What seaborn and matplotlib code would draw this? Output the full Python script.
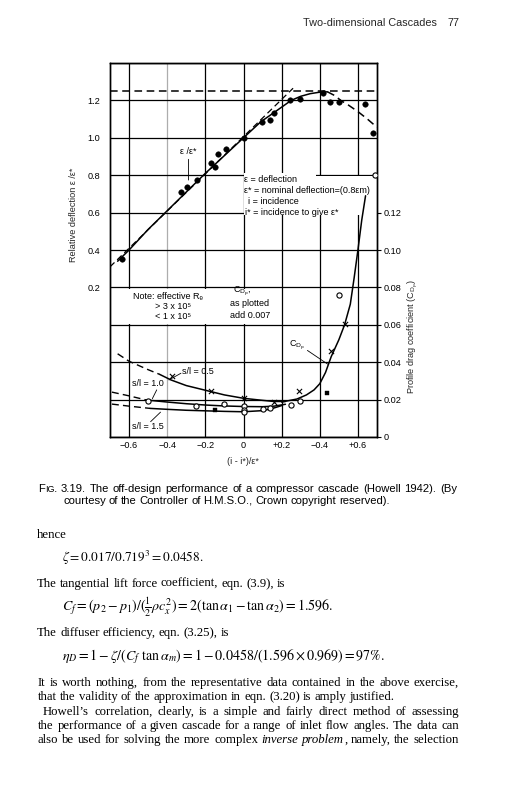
import numpy as np
import matplotlib
matplotlib.use("Agg")
import matplotlib.pyplot as plt
import seaborn as sns
from matplotlib.patches import Rectangle

# ---------------- data ----------------
# relative deflection eps/eps* (left axis)
defl_curve_x = [-0.66, -0.60, -0.50, -0.40, -0.30, -0.20, -0.10, 0.00, 0.09, 0.16, 0.25, 0.30, 0.35, 0.40, 0.44]
defl_curve_y = [0.34, 0.40, 0.51, 0.61, 0.71, 0.81, 0.905, 1.00, 1.085, 1.135, 1.20, 1.222, 1.236, 1.244, 1.246]
defl_fall_x = [0.44, 0.48, 0.51, 0.55, 0.60, 0.65, 0.70]
defl_fall_y = [1.246, 1.225, 1.20, 1.175, 1.14, 1.10, 1.056]
nominal_x = [-0.70, 0.26]
nominal_y = [0.31, 1.265]
max_defl_x = [-0.70, 0.70]
max_defl_y = [1.25, 1.25]
defl_pts_x = [-0.635, -0.326, -0.295, -0.246, -0.173, -0.152, -0.134, -0.094, 0.0, 0.098, 0.138,
              0.159, 0.246, 0.295, 0.417, 0.455, 0.503, 0.639, 0.679]
defl_pts_y = [0.35, 0.712, 0.735, 0.774, 0.864, 0.843, 0.912, 0.942, 1.0, 1.086, 1.095,
              1.13, 1.20, 1.21, 1.241, 1.19, 1.193, 1.18, 1.027]

# profile drag coefficient (right axis)
sl05_dash_x = [-0.66, -0.60, -0.50, -0.44]
sl05_dash_y = [0.0445, 0.0405, 0.0360, 0.0335]
sl05_x = [-0.44, -0.38, -0.30, -0.20, -0.10, 0.00, 0.10, 0.16, 0.22]
sl05_y = [0.0335, 0.0305, 0.0275, 0.0250, 0.0225, 0.0207, 0.0196, 0.0190, 0.0190]
sl10_dash_x = [-0.69, -0.60, -0.51]
sl10_dash_y = [0.0240, 0.0220, 0.0198]
sl10_x = [-0.51, -0.40, -0.30, -0.20, -0.10, 0.00, 0.10, 0.16, 0.22]
sl10_y = [0.0198, 0.0187, 0.0178, 0.0171, 0.0166, 0.0163, 0.0162, 0.0165, 0.0175]
sl15_dash_x = [-0.69, -0.60, -0.49]
sl15_dash_y = [0.0176, 0.0165, 0.0153]
sl15_x = [-0.49, -0.40, -0.30, -0.20, -0.10, 0.00, 0.10, 0.15, 0.20]
sl15_y = [0.0153, 0.0148, 0.0143, 0.0140, 0.0137, 0.0135, 0.0141, 0.0152, 0.0168]
cdp_x = [0.20, 0.28, 0.33, 0.37, 0.40, 0.43, 0.46, 0.50, 0.53, 0.56, 0.58, 0.60, 0.62, 0.64]
cdp_y = [0.0187, 0.0203, 0.0225, 0.0252, 0.0285, 0.0345, 0.0430, 0.0520, 0.0600, 0.0710, 0.0850, 0.1000, 0.1160, 0.1290]
cross_x = [-0.377, -0.173, 0.0, 0.159, 0.29, 0.459, 0.534]
cross_y = [0.0326, 0.0246, 0.0207, 0.0189, 0.0246, 0.0460, 0.0603]
ring_x = [-0.50, -0.251, -0.103, 0.0, 0.0, 0.0, 0.10, 0.138, 0.25, 0.298, 0.499, 0.69]
ring_y = [0.0193, 0.0166, 0.0176, 0.0166, 0.0142, 0.0132, 0.0150, 0.0153, 0.0171, 0.0193, 0.0759, 0.140]
square_x = [-0.147, 0.44]
square_y = [0.0144, 0.0237]

x_ticks = [-0.6, -0.4, -0.2, 0.0, 0.2, 0.4, 0.6]
x_tick_labels = ["\u22120.6", "\u22120.4", "\u22120.2", "0", "+0.2", "\u22120.4", "+0.6"]
left_ticks = [-0.6, -0.4, -0.2, 0.0, 0.2, 0.4, 0.6, 0.8, 1.0, 1.2, 1.4]
left_tick_labels = ["", "", "", "", "0.2", "0.4", "0.6", "0.8", "1.0", "1.2", ""]
right_ticks = [0.0, 0.02, 0.04, 0.06, 0.08, 0.10, 0.12]
right_tick_labels = ["0", "0.02", "0.04", "0.06", "0.08", "0.10", "0.12"]

# ---------------- style ----------------
sns.set_style("white")
SANS = ["Liberation Sans", "DejaVu Sans"]
SERIF = ["Liberation Serif", "DejaVu Serif"]
plt.rcParams["font.family"] = SANS
plt.rcParams["mathtext.fontset"] = "dejavusans"

W, H = 514, 800
fig = plt.figure(figsize=(W / 100, H / 100), dpi=100)
fig.patch.set_facecolor("white")
renderer = fig.canvas.get_renderer()

ax = fig.add_axes([110 / W, 1 - 437 / H, 267 / W, 374 / H])
ax2 = ax.twinx()
ax.set_xlim(-0.7, 0.7)
ax.set_ylim(-0.6, 1.4)
ax2.set_ylim(0, 0.2)

TS = 6.6
ax.set_xticks(x_ticks)
ax.set_xticklabels(x_tick_labels)
ax.set_yticks(left_ticks)
ax.set_yticklabels(left_tick_labels)
ax.tick_params(axis="both", length=0, labelsize=TS, colors="black")
ax.tick_params(axis="y", pad=7)
ax.tick_params(axis="x", pad=3)
ax2.set_yticks(right_ticks)
ax2.set_yticklabels(right_tick_labels)
ax2.tick_params(axis="y", direction="out", length=3, width=0.8, pad=1.5, labelsize=TS, colors="black")
ax.set_axisbelow(True)
ax.grid(True, color="black", lw=0.9)
ax2.grid(False)
ax.get_xgridlines()[1].set_color("0.68")
for a in (ax, ax2):
    for s in a.spines.values():
        s.set_color("black")
        s.set_linewidth(1.0)

# white label boxes that interrupt the grid
ax.add_patch(Rectangle((0.0, 0.585), 0.7, 0.212, facecolor="white", edgecolor="none", zorder=1))
ax.add_patch(Rectangle((0.0, 0.79), 0.38, 0.02, facecolor="white", edgecolor="none", zorder=1))
ax.add_patch(Rectangle((-0.7, 0.006), 0.85, 0.188, facecolor="white", edgecolor="none", zorder=1))

DASH = (0, (5, 3))
# deflection curves
sns.lineplot(x=defl_curve_x, y=defl_curve_y, ax=ax, color="black", lw=1.1, sort=False)
sns.lineplot(x=defl_fall_x, y=defl_fall_y, ax=ax, color="black", lw=1.1, linestyle=DASH, sort=False)
sns.lineplot(x=nominal_x, y=nominal_y, ax=ax, color="black", lw=0.9, linestyle=DASH, sort=False)
sns.lineplot(x=max_defl_x, y=max_defl_y, ax=ax, color="black", lw=1.1, linestyle=DASH, sort=False)
sns.scatterplot(x=defl_pts_x, y=defl_pts_y, ax=ax, color="black", s=16, marker="o", edgecolor="black", zorder=4)

# drag curves
for xs, ys in [(sl05_dash_x, sl05_dash_y), (sl10_dash_x, sl10_dash_y), (sl15_dash_x, sl15_dash_y)]:
    sns.lineplot(x=xs, y=ys, ax=ax2, color="black", lw=1.0, linestyle=DASH, sort=False)
for xs, ys in [(sl05_x, sl05_y), (sl10_x, sl10_y), (sl15_x, sl15_y), (cdp_x, cdp_y)]:
    sns.lineplot(x=xs, y=ys, ax=ax2, color="black", lw=1.1, sort=False)
sns.scatterplot(x=cross_x, y=cross_y, ax=ax2, color="black", marker="x", s=14, linewidth=0.8, zorder=4)
sns.scatterplot(x=ring_x, y=ring_y, ax=ax2, color="white", edgecolor="black", marker="o", s=14,
                linewidth=0.8, zorder=4)
sns.scatterplot(x=square_x, y=square_y, ax=ax2, color="black", edgecolor="black", marker="s", s=12, zorder=4)

# ---------------- chart annotations ----------------
AS = 6.5
kw = dict(fontsize=AS, color="black")
ax.text(-0.288, 0.925, "\u03b5 /\u03b5*", ha="center", va="center", **kw)
ax.annotate("", xy=(-0.288, 0.774), xytext=(-0.288, 0.885),
            arrowprops=dict(arrowstyle="-", lw=0.6, color="black", shrinkA=0, shrinkB=0))
ax.text(0.005, 0.776, "\u03b5 = deflection", ha="left", va="center", zorder=5, **kw)
ax.text(0.005, 0.719, "\u03b5* = nominal deflection=(0.8\u03b5m)", ha="left", va="center", zorder=5, **kw)
ax.text(0.021, 0.660, "i = incidence", ha="left", va="center", zorder=5, **kw)
ax.text(0.010, 0.602, "i* = incidence to give \u03b5*", ha="left", va="center", zorder=5, **kw)

ax.text(-0.578, 0.154, "Note: effective R\u2091", ha="left", va="center", zorder=5, **kw)
ax.text(-0.466, 0.097, "> 3 x 10\u2075", ha="left", va="center", zorder=5, **kw)
ax.text(-0.466, 0.044, "< 1 x 10\u2075", ha="left", va="center", zorder=5, **kw)
ax.text(-0.005, 0.177, "C$_{\\mathrm{D_p}}$,", ha="center", va="center", zorder=5, **kw)
ax.text(0.034, 0.113, "as plotted", ha="center", va="center", zorder=5, **kw)
ax.text(0.034, 0.051, "add 0.007", ha="center", va="center", zorder=5, **kw)

ax2.text(0.281, 0.0490, "C$_{\\mathrm{D_p}}$", ha="center", va="center", **kw)
ax2.annotate("", xy=(0.441, 0.039), xytext=(0.335, 0.0463),
             arrowprops=dict(arrowstyle="-", lw=0.6, color="black", shrinkA=0, shrinkB=0))
ax2.text(-0.321, 0.0349, "s/l = 0.5", ha="left", va="center", **kw)
ax2.annotate("", xy=(-0.391, 0.0305), xytext=(-0.328, 0.0341),
             arrowprops=dict(arrowstyle="-", lw=0.6, color="black", shrinkA=0, shrinkB=0))
ax2.text(-0.583, 0.0287, "s/l = 1.0", ha="left", va="center", **kw)
ax2.annotate("", xy=(-0.478, 0.0205), xytext=(-0.455, 0.0252),
             arrowprops=dict(arrowstyle="-", lw=0.6, color="black", shrinkA=0, shrinkB=0))
ax2.text(-0.583, 0.0055, "s/l = 1.5", ha="left", va="center", **kw)
ax2.annotate("", xy=(-0.435, 0.0133), xytext=(-0.487, 0.0082),
             arrowprops=dict(arrowstyle="-", lw=0.6, color="black", shrinkA=0, shrinkB=0))

fig.text(243 / W, 1 - 462 / H, "(i - i*)/\u03b5*", ha="center", va="center", fontsize=TS)
fig.text(73 / W, 1 - 215 / H, "Relative deflection \u03b5 /\u03b5*", rotation=90, ha="center", va="center",
         fontsize=TS)
fig.text(413 / W, 1 - 336 / H, "Profile drag coefficient (C$_{\\mathrm{D_p}}$)", rotation=90,
         ha="center", va="center", fontsize=TS)


# ---------------- page text ----------------
def text_width(s, size, **k):
    t = fig.text(0, 0, s, fontsize=size, **k)
    w = t.get_window_extent(renderer).width
    t.remove()
    return w


def fit_size(s, target, **k):
    return 10.0 * target / text_width(s, 10.0, **k)


def draw_line(words, x0, yb, family, x1=None, space_size=8):
    items = []
    for word in words:
        segs = []
        for txt, size, style in word:
            t = fig.text(0, 0, txt, fontsize=size, family=family, style=style, va="baseline", ha="left",
                         color="black")
            segs.append((t, t.get_window_extent(renderer).width))
        items.append(segs)
    widths = [sum(w for _, w in segs) for segs in items]
    if x1 is not None and len(items) > 1:
        gap = (x1 - x0 - sum(widths)) / (len(items) - 1)
    else:
        gap = 0.25 * space_size * 100 / 72
    x = x0
    for segs, wd in zip(items, widths):
        xx = x
        for t, w in segs:
            t.set_position((xx / W, 1 - yb / H))
            xx += w
        x += wd + gap


def words_of(s, size, style="normal"):
    return [[(w, size, style)] for w in s.split()]


# header
hs = fit_size("Two-dimensional Cascades", 133, family=SANS)
fig.text(303 / W, 1 - 25.5 / H, "Two-dimensional Cascades", fontsize=hs, va="baseline", ha="left")
fig.text(447 / W, 1 - 25.5 / H, "77", fontsize=hs, va="baseline", ha="left")

# caption
cap1_rest = "3.19. The off-design performance of a compressor cascade (Howell 1942). (By"
cs = fit_size("FIG. " + cap1_rest, 418, family=SANS)
cap_words = [[("F", cs, "normal"), ("IG.", cs * 0.8, "normal")]] + words_of(cap1_rest, cs)
draw_line(cap_words, 38, 491.5, SANS, x1=457, space_size=cs)
draw_line(words_of("courtesy of the Controller of H.M.S.O., Crown copyright reserved).", cs),
          63, 503.5, SANS, space_size=cs)

# body
bs = fit_size("The tangential lift force coefficient, eqn. (3.9), is", 249, family=SERIF)
draw_line(words_of("hence", bs), 37, 538, SERIF, space_size=bs)
draw_line(words_of("The tangential lift force coefficient, eqn. (3.9), is", bs), 37, 587, SERIF, space_size=bs)
draw_line(words_of("The diffuser efficiency, eqn. (3.25), is", bs), 37, 636, SERIF, space_size=bs)

math_lines = [
    (r"$\zeta = 0.017/0.719^3 = 0.0458.$", 562, 141),
    (r"$C_f = (p_2 - p_1)/(\frac{1}{2}\rho c_x^2) = 2(\tan\alpha_1 - \tan\alpha_2) = 1.596.$", 611, 276),
    (r"$\eta_D = 1 - \zeta/(C_f\ \tan\alpha_m) = 1 - 0.0458/(1.596 \times 0.969) = 97\%.$", 660, 325),
]
for s, yb, target in math_lines:
    ms = min(fit_size(s, target, math_fontfamily="stix"), bs * 1.1)
    fig.text(62 / W, 1 - yb / H, s, fontsize=ms, math_fontfamily="stix", va="baseline", ha="left",
             color="black")

draw_line(words_of("It is worth nothing, from the representative data contained in the above exercise,", bs),
          38, 686, SERIF, x1=459, space_size=bs)
draw_line(words_of("that the validity of the approximation in eqn. (3.20) is amply justified.", bs),
          38, 700, SERIF, space_size=bs)
draw_line(words_of("Howell\u2019s correlation, clearly, is a simple and fairly direct method of assessing", bs),
          43, 715, SERIF, x1=459, space_size=bs)
draw_line(words_of("the performance of a given cascade for a range of inlet flow angles. The data can", bs),
          38, 729, SERIF, x1=459, space_size=bs)
last = (words_of("also be used for solving the more complex", bs)
        + words_of("inverse", bs, "italic")
        + [[("problem", bs, "italic"), (",", bs, "normal")]]
        + words_of("namely, the selection", bs))
draw_line(last, 38, 743, SERIF, x1=459, space_size=bs)

fig.savefig("out.png", dpi=100, facecolor="white")
